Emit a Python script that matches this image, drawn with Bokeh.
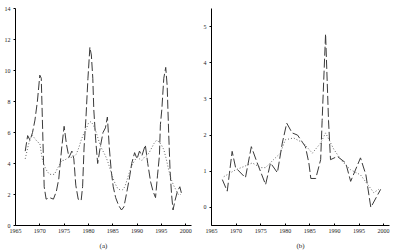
from bokeh.plotting import figure
from bokeh.layouts import row
from bokeh.models import FixedTicker, Range1d
from bokeh.embed import file_html
from bokeh.resources import INLINE

# ---- data: panel (a) ----
a_years_actual = [1967.0, 1967.5, 1968.0, 1968.5, 1969.0, 1969.5, 1970.0, 1970.3, 1970.6, 1970.9,
                  1971.3, 1972.0, 1972.8, 1973.4, 1973.9, 1974.5, 1975.0, 1975.5, 1976.0, 1976.6,
                  1977.0, 1977.4, 1977.9, 1978.5, 1978.8, 1979.1, 1979.5, 1979.9, 1980.3, 1980.6,
                  1980.9, 1981.1, 1981.5, 1981.9, 1982.4, 1983.0, 1983.5, 1983.9, 1984.3, 1984.7,
                  1985.1, 1985.6, 1986.2, 1986.8, 1987.3, 1987.8, 1988.4, 1988.9, 1989.5, 1990.0,
                  1990.5, 1991.0, 1991.7, 1992.2, 1992.8, 1993.3, 1993.8, 1994.2, 1994.6, 1994.8,
                  1995.1, 1995.5, 1995.9, 1996.2, 1996.5, 1996.8, 1997.1, 1997.4, 1997.8, 1998.3,
                  1998.8, 1999.2]
a_actual = [4.8, 5.8, 5.5, 6.0, 6.8, 8.0, 9.7, 9.5, 6.0, 2.5,
            1.7, 1.8, 1.7, 2.2, 3.0, 5.0, 6.4, 5.2, 4.4, 4.8,
            4.3, 2.6, 1.7, 1.6, 2.5, 5.0, 7.0, 9.5, 11.5, 11.0,
            9.5, 7.5, 5.5, 4.0, 5.0, 6.0, 6.3, 7.0, 5.0, 3.5,
            2.5, 1.8, 1.3, 1.0, 1.2, 2.0, 3.0, 4.0, 4.7, 4.3,
            4.8, 4.5, 5.2, 4.0, 2.8, 2.2, 1.8, 3.2, 4.5, 6.5,
            7.5, 9.5, 10.2, 9.0, 6.0, 3.5, 2.0, 1.0, 1.6, 2.2,
            2.5, 2.0]

a_years_trend = [1967.0, 1967.5, 1968.0, 1968.5, 1969.0, 1969.5, 1970.0, 1970.5, 1971.0, 1971.5,
                 1972.0, 1973.0, 1973.5, 1974.0, 1974.5, 1975.0, 1975.5, 1976.0, 1976.8, 1977.5,
                 1978.0, 1978.5, 1979.0, 1979.5, 1980.0, 1980.5, 1981.0, 1981.5, 1982.0, 1982.5,
                 1983.0, 1983.5, 1984.0, 1984.5, 1985.0, 1985.5, 1986.0, 1986.5, 1987.0, 1987.5,
                 1988.0, 1988.5, 1989.0, 1989.5, 1990.0, 1990.5, 1991.0, 1991.5, 1992.0, 1992.5,
                 1993.0, 1993.5, 1994.0, 1994.5, 1995.0, 1995.5, 1996.0, 1996.5, 1997.0, 1997.5,
                 1998.0, 1998.5, 1999.0]
a_trend = [4.3, 5.0, 5.6, 5.8, 5.6, 5.4, 5.3, 4.3, 3.8, 3.5,
           3.3, 3.3, 3.6, 3.9, 4.2, 4.2, 4.3, 4.4, 4.4, 4.6,
           5.0, 5.5, 5.9, 6.2, 6.6, 6.7, 6.5, 6.1, 5.6, 5.1,
           4.8, 4.5, 4.1, 3.6, 3.1, 2.7, 2.4, 2.3, 2.3, 2.5,
           3.0, 3.5, 3.9, 4.2, 4.4, 4.3, 4.2, 4.4, 4.5, 4.7,
           5.0, 5.3, 5.5, 5.4, 5.2, 4.9, 4.3, 3.6, 3.0, 2.6,
           2.3, 2.0, 2.0]

# ---- data: panel (b) ----
b_years_actual = [1967.2, 1968.2, 1969.2, 1969.9, 1971.9, 1973.1, 1974.3, 1976.0, 1977.0, 1978.4,
                  1979.4, 1980.3, 1981.4, 1982.5, 1984.1, 1984.8, 1985.2, 1986.2, 1987.2, 1987.5,
                  1988.2, 1988.8, 1989.2, 1990.6, 1992.3, 1993.3, 1995.3, 1996.4, 1997.4, 1999.4]
b_actual = [0.77, 0.45, 1.55, 1.1, 0.82, 1.68, 1.23, 0.63, 1.23, 0.96,
            1.78, 2.33, 2.06, 2.0, 1.68, 1.23, 0.8, 0.8, 1.32, 2.4,
            4.8, 2.4, 1.32, 1.41, 1.23, 0.72, 1.37, 0.9, 0.0, 0.5]

b_years_trend = [1967.5, 1969.9, 1971.6, 1973.3, 1975.0, 1976.0, 1977.6, 1979.0, 1980.0, 1981.7,
                 1983.7, 1985.5, 1987.2, 1988.2, 1989.9, 1991.6, 1993.3, 1995.3, 1997.0, 1998.0,
                 1999.0]
b_trend = [0.85, 1.04, 1.13, 1.23, 1.1, 1.1, 1.32, 1.5, 1.87, 1.92,
           1.78, 1.5, 1.78, 2.06, 1.6, 1.27, 1.04, 0.9, 0.59, 0.41,
           0.5]

x_ticks = [1965, 1970, 1975, 1980, 1985, 1990, 1995, 2000]
a_y_ticks = [0, 2, 4, 6, 8, 10, 12, 14]
b_y_ticks = [0, 1, 2, 3, 4, 5]

FONT = "Liberation Serif"


def make_panel(width, border_left, border_right, yr, yticks, caption):
    p = figure(width=width, height=252, output_backend="svg", toolbar_location=None,
               x_range=Range1d(1965, 2001.2), y_range=Range1d(*yr))
    p.min_border_left = border_left
    p.min_border_right = border_right
    p.min_border_top = 8
    p.min_border_bottom = 0
    p.outline_line_color = None
    p.background_fill_color = "white"
    p.border_fill_color = "white"
    p.grid.visible = False
    p.xaxis.ticker = FixedTicker(ticks=x_ticks)
    p.yaxis.ticker = FixedTicker(ticks=yticks)
    for ax in (p.xaxis[0], p.yaxis[0]):
        ax.axis_line_color = "black"
        ax.axis_line_width = 1
        ax.major_tick_line_color = "black"
        ax.minor_tick_line_color = None
        ax.major_label_text_font = FONT
        ax.major_label_text_font_size = "6px"
        ax.major_label_text_color = "#222222"
    p.xaxis.major_tick_in = 2
    p.xaxis.major_tick_out = 0
    p.yaxis.major_tick_in = 0
    p.yaxis.major_tick_out = 2
    p.xaxis.major_label_standoff = 3
    p.yaxis.major_label_standoff = 3
    p.xaxis.axis_label = caption
    p.xaxis.axis_label_text_font = FONT
    p.xaxis.axis_label_text_font_size = "7px"
    p.xaxis.axis_label_text_font_style = "normal"
    p.xaxis.axis_label_text_color = "#222222"
    p.xaxis.axis_label_standoff = 6
    return p


pa = make_panel(198, 15, 7, (0, 14), a_y_ticks, "(a)")
pa.line(a_years_actual, a_actual, line_color="#3a3a3a", line_width=1.0, line_dash="9 3")
pa.line(a_years_trend, a_trend, line_color="#666666", line_width=1.0, line_dash="1 2")

pb = make_panel(200, 13, 9, (-0.5, 5.5), b_y_ticks, "(b)")
pb.line(b_years_actual, b_actual, line_color="#3a3a3a", line_width=1.0, line_dash="9 3")
pb.line(b_years_trend, b_trend, line_color="#666666", line_width=1.0, line_dash="1 2")

layout = row(pa, pb)
open("out.html", "w").write(file_html(layout, INLINE))
